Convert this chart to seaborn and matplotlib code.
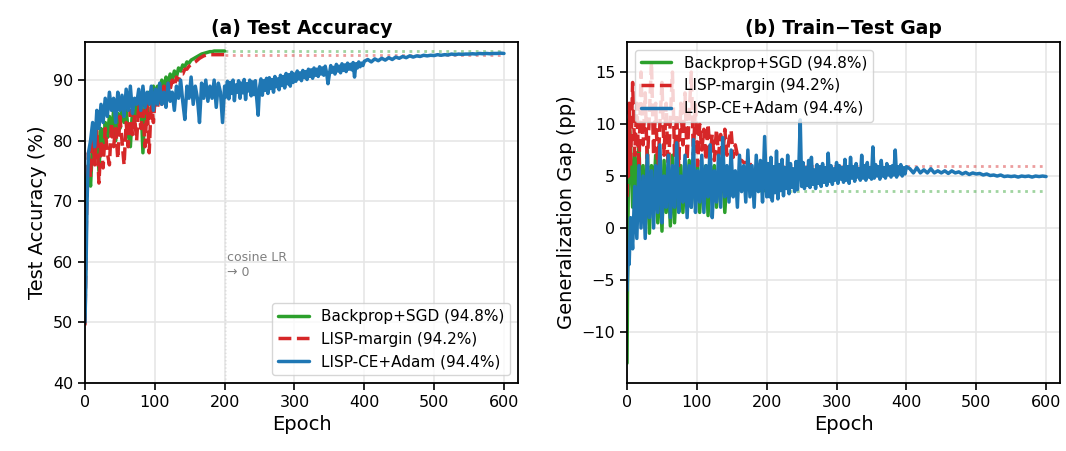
import numpy as np
import pandas as pd
import matplotlib
matplotlib.use("Agg")
import matplotlib.pyplot as plt
import seaborn as sns

# ---------------- data ----------------
series_names = ["Backprop+SGD (94.8%)", "LISP-margin (94.2%)", "LISP-CE+Adam (94.4%)"]
epochs_short = [0, 1, 2, 3] + list(range(5, 201, 3))          # 70 epochs
epochs_mid = list(range(202, 401, 2))                          # 100 epochs
epochs_late = list(range(405, 601, 5))                         # 40 epochs

sgd_acc = [50.0, 62, 70, 74,
           76, 72.5, 80, 77, 81.5, 75, 82, 79, 83, 80.5,
           84, 81, 85, 80, 84.5, 82, 86, 83, 85.5, 81,
           79, 85, 83, 86.5, 84, 87, 78, 86, 84.5, 88,
           86, 89, 87.5, 89, 88, 90, 88.5, 90.5, 89.5, 91,
           90, 91.5, 90.5, 92, 91.5, 92.5, 92.2, 93, 92.8, 93.3,
           93.5, 93.7, 93.9, 94.1, 94.3, 94.4, 94.5, 94.6, 94.7, 94.7,
           94.8, 94.8, 94.8, 94.8, 94.8, 94.8]
margin_acc = [49.5, 58, 66, 72,
              78, 74, 81, 76, 82, 73, 80, 75.5, 82, 78,
              76, 83, 79, 82, 77, 84, 80, 76, 83, 79,
              85, 81, 84, 80, 86, 82, 85, 79, 86, 78,
              87, 83, 88, 85.5, 88, 86, 89, 87.5, 89.5, 88.5,
              90, 89, 90.5, 90, 91, 91, 91.8, 91.8, 92.3, 92.5,
              92.8, 93, 93.3, 93.6, 93.8, 94, 94.1, 94.2, 94.2, 94.2,
              94.2, 94.2, 94.2, 94.2, 94.2, 94.2]
adam_acc_early = [50, 55, 62, 70,
                  78, 80, 83, 79, 85, 82, 86, 83, 87, 84,
                  88, 85, 87, 83, 88, 85, 87.5, 84, 88.5, 85,
                  89, 84.5, 87, 86, 88.5, 85, 89, 85.5, 88, 86,
                  89, 85, 88.5, 86, 89.5, 86, 88, 85.5, 89.5, 86.5,
                  88, 85, 89, 87, 90, 86.5, 83.5, 89, 87, 90.5,
                  86, 89, 87, 83, 89.5, 87, 90, 86.5, 89, 87,
                  90, 85.5, 89.5, 88, 83, 89]
adam_acc_mid = [87.2, 89.8, 86.9, 89.6, 87.8, 90.0, 86.6, 89.2, 88.0, 89.9,
                87.0, 89.5, 87.9, 90.1, 86.8, 89.4, 88.2, 90.0, 87.4, 89.7,
                87.6, 89.9, 86.9, 84.2, 88.8, 90.2, 87.5, 89.9, 88.3, 90.3,
                87.8, 90.4, 88.6, 90.1, 88.0, 90.6, 88.9, 90.2, 88.4, 90.8,
                89.1, 90.6, 88.7, 91.1, 89.4, 90.9, 89.0, 91.3, 89.6, 91.0,
                89.8, 91.5, 90.2, 91.2, 89.9, 91.6, 90.4, 91.4, 90.1, 91.8,
                90.6, 91.7, 90.3, 92.0, 90.8, 91.8, 90.6, 92.2, 91.0, 92.0,
                90.8, 92.3, 91.2, 89.4, 91.0, 92.4, 91.3, 92.1, 91.0, 92.6,
                91.5, 92.3, 91.2, 92.7, 91.6, 92.5, 91.4, 92.8, 91.8, 92.6,
                91.7, 92.9, 90.5, 92.7, 92.0, 93.0, 92.2, 92.8, 92.4, 93.1]
adam_acc_late = [93.4, 93.0, 93.5, 93.2, 93.6, 93.3, 93.7, 93.4, 93.8, 93.6,
                 93.9, 93.7, 94.0, 93.8, 94.0, 93.9, 94.1, 94.0, 94.1, 94.05,
                 94.2, 94.1, 94.2, 94.15, 94.3, 94.2, 94.3, 94.25, 94.3, 94.3,
                 94.35, 94.3, 94.4, 94.35, 94.4, 94.35, 94.4, 94.4, 94.45, 94.4]

sgd_gap = [-13, -2, 5, 10.5,
           8, 2, 7, 3, 8, 1.5, 6, 0, 7.5, -0.5,
           6, 3, 7, 0.5, 5.5, -0.3, 6.5, 1.5, 5, 0.2,
           7, 0.5, 5, 2.5, 6, 1.5, 5.5, 3, 6.5, 2,
           5, 3, 6, 1.5, 5, 3.5, 6, 1.2, 5.5, 3.8,
           6, 2, 5, 3.5, 5.5, 1.5, 5, 3, 4.5, 4,
           4.5, 3.8, 4.3, 3.6, 4.2, 3.8, 4, 3.7, 3.8, 3.6,
           3.7, 3.6, 3.6, 3.6, 3.6, 3.6]
margin_gap = [3, 9, 5, 12,
              6, 14, 7, 12, 5.5, 15, 8, 13, 6, 11,
              16, 7, 12, 5, 10, 14, 7, 12, 5, 10.5,
              15, 7, 11, 6, 12, 8, 13, 6.5, 11, 15,
              7, 12, 6, 10, 7.5, 9.5, 6.5, 10, 7, 9,
              6.5, 9.5, 7, 9, 6.8, 9.5, 7, 8.5, 9.4, 6.8,
              8, 7, 6.6, 6.5, 6.3, 6.3, 6.2, 6.1, 6.1, 6,
              6, 6, 6, 6, 6, 6]
adam_gap_early = [-6, -4, -2, -3.5,
                  1, -2, 4, -1, 6, 0, 5, -1, 7, 1,
                  5.5, 0, 6, 1.5, 8, 0.5, 5, 2, 7, 1,
                  6, 2, 8.2, 1.5, 5, 2.5, 7, 1, 6, 2,
                  8.5, 1.5, 5.5, 2.5, 7, 1.5, 6, 3, 8, 1,
                  5.5, 2.5, 7, 2, 8.7, 3, 6, 2.5, 7.5, 3,
                  5.5, 2, 7, 3.5, 6, 2.5, 7.5, 3, 6, 2,
                  7, 3.5, 6.5, 2.5, 8.8, 3]
adam_gap_mid = [6.2, 3.0, 6.8, 2.6, 5.9, 3.4, 7.4, 2.8, 6.1, 3.6,
                6.6, 3.1, 5.8, 3.8, 7.0, 3.3, 6.2, 3.9, 5.7, 3.5,
                6.4, 3.7, 5.9, 10.4, 4.0, 6.3, 3.8, 5.8, 4.1, 6.5,
                3.9, 6.8, 4.2, 5.6, 3.8, 6.1, 4.3, 5.9, 4.0, 6.2,
                4.4, 5.8, 4.1, 7.2, 4.5, 6.0, 4.2, 5.7, 4.6, 6.3,
                4.3, 6.0, 4.7, 5.8, 4.4, 6.6, 4.6, 5.9, 4.3, 6.8,
                4.8, 5.9, 4.5, 6.2, 4.9, 5.7, 4.6, 7.0, 4.8, 6.0,
                4.6, 6.3, 4.9, 5.8, 4.7, 7.8, 4.8, 6.1, 5.0, 5.9,
                4.7, 6.5, 5.0, 5.8, 4.8, 6.2, 5.1, 5.9, 4.9, 6.0,
                5.1, 7.5, 4.9, 5.9, 5.2, 6.1, 5.0, 5.8, 5.2, 5.9]
adam_gap_late = [5.7, 5.3, 5.8, 5.3, 5.6, 5.3, 5.7, 5.3, 5.5, 5.3,
                 5.5, 5.25, 5.5, 5.3, 5.4, 5.2, 5.35, 5.15, 5.3, 5.2,
                 5.25, 5.1, 5.2, 5.05, 5.1, 5.0, 5.1, 4.95, 5.0, 4.95,
                 5.0, 4.9, 5.0, 4.95, 5.0, 4.9, 5.0, 4.95, 5.0, 4.95]

colors = ["#2ca02c", "#d62728", "#1f77b4"]

# ---------------- style ----------------
sns.set_theme(style="whitegrid")
plt.rcParams.update({
    "font.family": ["DejaVu Sans"],
    "text.color": "black",
    "axes.labelcolor": "black",
    "axes.edgecolor": "black",
    "axes.linewidth": 1.3,
    "xtick.bottom": True,
    "ytick.left": True,
    "xtick.major.size": 5,
    "ytick.major.size": 5,
    "xtick.major.width": 1.2,
    "ytick.major.width": 1.2,
    "xtick.color": "black",
    "ytick.color": "black",
    "xtick.labelsize": 11.5,
    "ytick.labelsize": 11.5,
    "axes.labelsize": 14,
    "grid.color": "#e6e6e6",
    "grid.linewidth": 1.2,
})

fig, axes = plt.subplots(1, 2, figsize=(10.66, 4.51), dpi=100)
fig.subplots_adjust(left=0.0797, right=0.9944, bottom=0.151, top=0.907, wspace=0.252)

epochs_adam = epochs_short + epochs_mid + epochs_late


def draw(ax, sgd, margin, adam):
    sns.lineplot(x=epochs_short, y=sgd, ax=ax, color=colors[0], lw=2.5,
                 label=series_names[0], estimator=None, sort=False)
    sns.lineplot(x=epochs_short, y=margin, ax=ax, color=colors[1], lw=2.5,
                 label=series_names[1], estimator=None, sort=False,
                 linestyle="--")
    sns.lineplot(x=epochs_adam, y=adam, ax=ax, color=colors[2], lw=2.5,
                 label=series_names[2], estimator=None, sort=False)
    # dotted continuation of finished runs
    ax.plot([epochs_short[-1], epochs_late[-1]], [sgd[-1], sgd[-1]], ls=":",
            color=colors[0], lw=2, alpha=0.45, zorder=1)
    ax.plot([epochs_short[-1], epochs_late[-1]], [margin[-1], margin[-1]], ls=":",
            color=colors[1], lw=2, alpha=0.45, zorder=1)
    ax.set_xlim(0, 620)
    ax.set_xticks([0, 100, 200, 300, 400, 500, 600])
    ax.set_xlabel("Epoch")
    for s in ax.spines.values():
        s.set_color("black")


ax = axes[0]
draw(ax, sgd_acc, margin_acc, adam_acc_early + adam_acc_mid + adam_acc_late)
ax.axvline(200, color="gray", ls=":", lw=1, alpha=0.7, zorder=0)
ax.text(203, 59.5, "cosine LR\n\u2192 0", color="gray", fontsize=9, va="center", ha="left")
ax.set_ylim(40, 96.3)
ax.set_yticks([40, 50, 60, 70, 80, 90])
ax.set_ylabel("Test Accuracy (%)")
ax.set_title("(a) Test Accuracy", fontsize=13.5, fontweight="bold")
ax.legend(loc="lower right", fontsize=11, frameon=True, edgecolor="#cccccc")

ax = axes[1]
draw(ax, sgd_gap, margin_gap, adam_gap_early + adam_gap_mid + adam_gap_late)
ax.set_ylim(-14.9, 17.9)
ax.set_yticks([-10, -5, 0, 5, 10, 15])
ax.set_ylabel("Generalization Gap (pp)")
ax.set_title("(b) Train\u2212Test Gap", fontsize=13.5, fontweight="bold")
ax.legend(loc="upper left", fontsize=11, frameon=True, edgecolor="#cccccc")

fig.savefig("out.png", dpi=100)
